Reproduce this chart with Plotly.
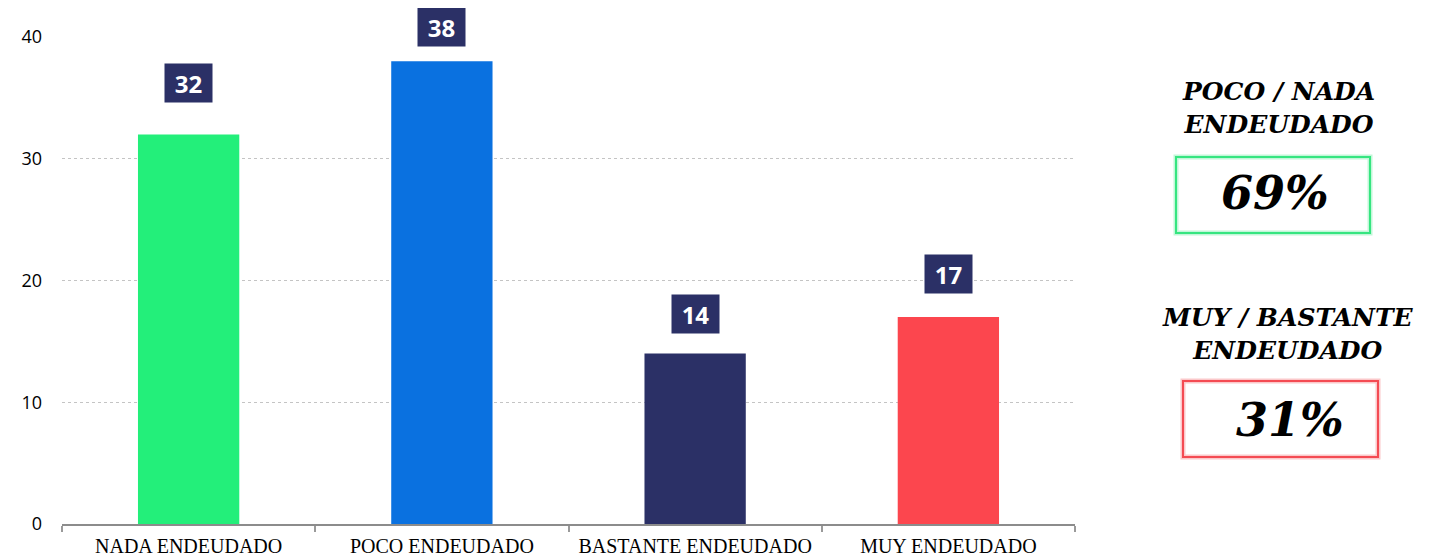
import plotly.graph_objects as go

categories = ["NADA ENDEUDADO", "POCO ENDEUDADO", "BASTANTE ENDEUDADO", "MUY ENDEUDADO"]
values = [32, 38, 14, 17]
bar_colors = ["#23EF7A", "#0A71E0", "#2B3066", "#FC464E"]
label_gaps = [31, 14, 20, 23]  # px between bar top and value box

summary_titles = ["POCO / NADA<br>ENDEUDADO", "MUY / BASTANTE<br>ENDEUDADO"]
summary_values = ["69%", "31%"]
summary_colors = ["#36E580", "#F44B53"]

OFF = 8  # default page body margin
W, H = 1437 - OFF, 558 - OFF
# plot-area edges in page pixels
L, R, T, B = 62, 1075, 36, 524
PW, PH = R - L, B - T
YMAX = 40.08


def px(x):
    return (x - L) / PW


def py(y):
    return (B - y) / PH


fig = go.Figure()
fig.add_trace(go.Bar(
    x=categories, y=values, marker=dict(color=bar_colors, line=dict(width=0)),
    width=0.4, hoverinfo="x+y", showlegend=False,
))

annotations = []
for c, v, g in zip(categories, values, label_gaps):
    annotations.append(dict(
        x=c, y=v, xref="x", yref="y", text=f"<b>{v}</b>", showarrow=False,
        yanchor="bottom", yshift=g, bgcolor="#2B3066", width=43, height=34,
        borderpad=2, font=dict(family="Open Sans", size=24, color="white"),
    ))

# summary panels (right side), page pixel positions
title_pos = [(1278, 108), (1288, 334)]
box_pos = [(1176, 157, 1370, 233), (1183, 381, 1378, 457)]
val_pos = [(1275, 193), (1290, 420)]
shapes = []
for t, val, col, tp, bp, vp in zip(summary_titles, summary_values, summary_colors, title_pos, box_pos, val_pos):
    annotations.append(dict(
        x=px(tp[0]), y=py(tp[1]), xref="paper", yref="paper", showarrow=False,
        text=f"<b><i>{t}</i></b>", xanchor="center", yanchor="middle", align="center",
        font=dict(family="DejaVu Serif", size=25, color="black"),
    ))
    annotations.append(dict(
        x=px(vp[0]), y=py(vp[1]), xref="paper", yref="paper", showarrow=False,
        text=f"<b><i>{val}</i></b>", xanchor="center", yanchor="middle",
        font=dict(family="DejaVu Serif", size=46, color="black"),
    ))
    x0, y0, x1, y1 = bp
    shapes.append(dict(type="rect", xref="paper", yref="paper",
                       x0=px(x0), x1=px(x1), y0=py(y1), y1=py(y0),
                       line=dict(color=col, width=5), opacity=0.3))
    shapes.append(dict(type="rect", xref="paper", yref="paper",
                       x0=px(x0), x1=px(x1), y0=py(y1), y1=py(y0),
                       line=dict(color=col, width=2)))

fig.update_layout(
    width=W, height=H,
    margin=dict(l=L - OFF, r=W - (R - OFF), t=T - OFF, b=H - (B - OFF), pad=0, autoexpand=False),
    plot_bgcolor="white", paper_bgcolor="white",
    bargap=0.6,
    annotations=annotations, shapes=shapes,
    xaxis=dict(
        showline=True, linecolor="#8c8c8c", linewidth=2,
        ticks="outside", tickson="boundaries", ticklen=6, tickwidth=2, tickcolor="#9a9a9a",
        ticklabelstandoff=3,
        tickfont=dict(family="Liberation Serif", size=20, color="black"),
        showgrid=False, fixedrange=True, automargin=False,
    ),
    yaxis=dict(
        range=[0, YMAX], tickvals=[0, 10, 20, 30, 40],
        showgrid=True, gridcolor="#c4c4c4", griddash="dot", gridwidth=1,
        zeroline=False, showline=False, ticks="",
        ticklabelstandoff=19,
        tickfont=dict(family="Open Sans", size=18, color="black"),
        fixedrange=True, automargin=False,
    ),
)

fig.write_html("out.html")
